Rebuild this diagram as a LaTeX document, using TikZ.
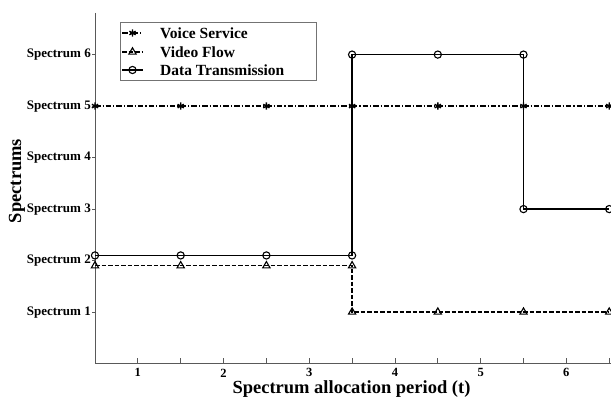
\documentclass[tikz,border=0pt]{standalone}
\usepackage{fontspec}
\setmainfont{Liberation Serif}
\usetikzlibrary{plotmarks}
\tikzset{
  axisline/.style={draw=black!65, line width=0.9pt},
  ticklabel/.style={font=\bfseries\fontsize{13}{15}\selectfont, inner sep=0pt},
  numlabel/.style={font=\bfseries\fontsize{12.5}{14}\selectfont, inner sep=0pt},
  axistitle/.style={font=\bfseries\fontsize{18.5}{20}\selectfont, inner sep=0pt},
  legendtext/.style={font=\bfseries\fontsize{15.5}{17}\selectfont, inner sep=0pt, anchor=west},
  voice/.style={line width=1.2pt, dash pattern=on 5.5pt off 2pt on 1.2pt off 2pt,
    mark=asterisk, mark size=3.6pt, mark options={solid, line width=1.4pt}},
  video/.style={line width=1.3pt, dash pattern=on 4.5pt off 2pt,
    mark=triangle, mark size=4.2pt, mark options={solid, line width=1.1pt, fill=white}},
  datatx/.style={line width=1.4pt,
    mark=o, mark size=3.6pt, mark options={solid, line width=1.1pt, fill=white}},
}
\begin{document}
\begin{tikzpicture}[x=1pt,y=1pt]
\useasboundingbox (0,0) rectangle (611,403);
\fill[white] (0,0) rectangle (611,403);

% data frame: x = period, y = spectrum index
\begin{scope}[shift={(52.15pt,39.4pt)}, x=85.7pt, y=51.5pt]
  % axes
  \draw[axisline] (0.5,6.81) -- (0.5,0) -- (6.53,0);
  \foreach \t in {1,1.5,...,6.5}
    \draw[axisline] (\t,0) -- (\t,0.1);
  \foreach \k in {1,...,6} {
    \draw[axisline] (0.5,\k) -- ++(-3pt,0);
    \node[ticklabel, anchor=east] (ylab\k) at ([xshift=-4pt]0.5,\k) {Spectrum \k};
  }
  \foreach \t in {1,...,6}
    \node[numlabel] (xlab\t) at (\t,-0.18) {\t};

  % service allocations
  \draw[voice] plot coordinates {(0.5,5) (1.5,5) (2.5,5) (3.5,5) (4.5,5) (5.5,5) (6.5,5)};
  \draw[video] plot coordinates {(0.5,1.9) (1.5,1.9) (2.5,1.9) (3.5,1.9) (3.5,1) (4.5,1) (5.5,1) (6.5,1)};
  \draw[datatx] plot coordinates {(0.5,2.1) (1.5,2.1) (2.5,2.1) (3.5,2.1) (3.5,6) (4.5,6) (5.5,6) (5.5,3) (6.5,3)};
\end{scope}

% axis titles
\node[axistitle] (xtitle) at (351.5,14) {Spectrum allocation period (t)};
\node[axistitle, rotate=90] (ytitle) at (17,222) {Spectrums};

% legend
\node[draw=black!55, line width=0.7pt, fill=white, minimum width=196pt, minimum height=58pt,
  anchor=north west, inner sep=0pt] (legend) at (120,381) {};
\draw[voice, mark=none] (122,370) -- (143,370);
\draw[voice] plot coordinates {(132.5,370)};
\node[legendtext] (lvoice) at (160,370) {Voice Service};
\draw[video, mark=none] (122,351) -- (143,351);
\draw[video] plot coordinates {(132.5,351)};
\node[legendtext] (lvideo) at (160,351) {Video Flow};
\draw[datatx, mark=none] (122,333) -- (143,333);
\draw[datatx] plot coordinates {(132.5,333)};
\node[legendtext] (ldata) at (160,333) {Data Transmission};
\end{tikzpicture}
\end{document}
